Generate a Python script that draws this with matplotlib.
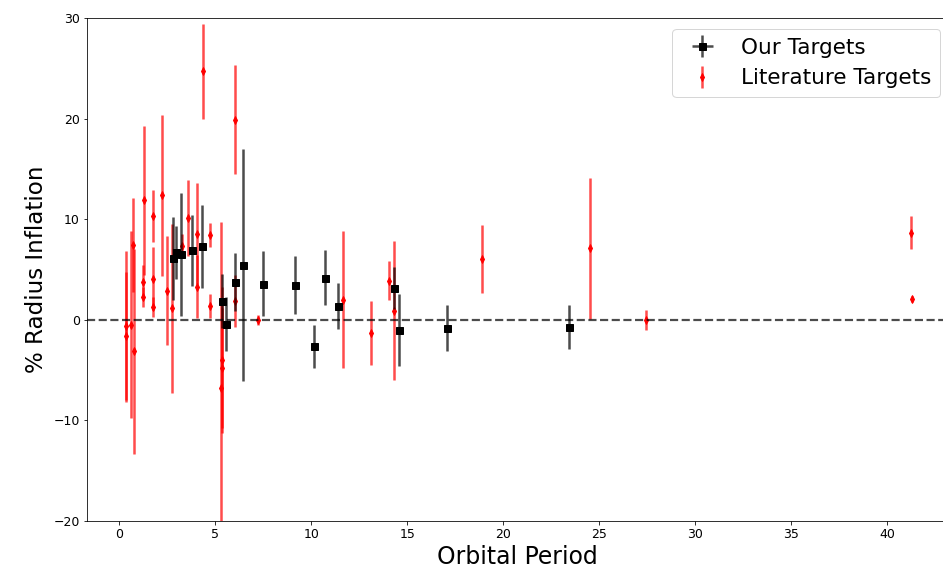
from matplotlib import pyplot as plt
import numpy as np

# our targets: orbital period (days), radius inflation (%), uncertainties
our_period = [2.80, 2.97, 3.21, 3.79, 4.34, 5.36, 5.55, 6.04, 6.44,
              7.47, 9.17, 10.14, 10.71, 11.42, 14.32, 14.58, 17.07, 23.44]
our_infl = [6.1, 6.7, 6.5, 6.9, 7.3, 1.9, -0.4, 3.75, 5.45,
            3.6, 3.45, -2.65, 4.2, 1.4, 3.15, -1.0, -0.85, -0.7]
our_err = [4.1, 2.6, 6.1, 3.5, 4.1, 2.7, 2.7, 2.9, 11.5,
           3.2, 2.9, 2.1, 2.7, 2.3, 2.1, 3.6, 2.3, 2.2]
our_perr = [0.001] * len(our_period)

# literature sample
lit_period = [0.36, 0.36, 0.61, 0.75, 0.78, 1.32, 1.27, 1.27, 1.75, 1.75,
              1.75, 2.22, 2.48, 2.74, 3.30, 3.61, 4.08, 4.08, 4.39, 4.74,
              4.74, 5.30, 5.35, 5.38, 6.02, 6.04, 7.22, 11.65, 13.10, 14.06,
              14.30, 18.90, 24.50, 27.45, 41.20, 41.26]
lit_infl = [-0.66, -1.6, -0.5, 7.45, -3.15, 11.9, 3.8, 2.25, 10.3, 4.1,
            1.3, 12.4, 2.9, 1.16, 7.3, 10.1, 8.55, 3.3, 24.7, 8.4,
            1.35, -6.8, -4.0, -4.8, 19.9, 1.9, 0.0, 2.0, -1.3, 3.9,
            0.9, 6.06, 7.1, -0.06, 8.65, 2.05]
lit_err = [7.5, 6.4, 9.3, 4.65, 10.2, 7.4, 1.6, 1.0, 2.6, 3.1,
           1.0, 8.0, 5.4, 8.4, 1.2, 3.8, 5.0, 3.1, 4.75, 1.2,
           1.2, 16.5, 7.3, 6.0, 5.4, 2.6, 0.5, 6.8, 3.2, 1.9,
           6.9, 3.4, 7.0, 1.0, 1.65, 0.3]

fig = plt.figure(figsize=(943 / 72, 580 / 72), dpi=72)
ax = fig.add_axes([87 / 943, 59 / 580, 860 / 943, 503 / 580])

ax.errorbar(our_period, our_infl, yerr=our_err, xerr=our_perr, fmt='s',
            color='k', ms=7, ecolor=(0, 0, 0, 0.7), elinewidth=2.5,
            label='Our Targets', zorder=3)
ax.errorbar(lit_period, lit_infl, yerr=lit_err, fmt='d', color='r',
            ms=5.5, ecolor=(1, 0, 0, 0.7), elinewidth=2.5,
            label='Literature Targets', zorder=2)
ax.axhline(0, color='k', ls='--', lw=2.2, alpha=0.7, zorder=4)

ax.set_xlim(-1.67, 43.1)
ax.set_ylim(-20, 30)
ax.set_xticks(np.arange(0, 45, 5))
ax.tick_params(labelsize=12.5)
ax.set_xlabel('Orbital Period', fontsize=23.5)
ax.set_ylabel('% Radius Inflation', fontsize=23, labelpad=6)
ax.legend(loc='upper right', fontsize=21.5, borderaxespad=0,
          bbox_to_anchor=(0.992, 0.978))

plt.savefig('out.png', dpi=72)
